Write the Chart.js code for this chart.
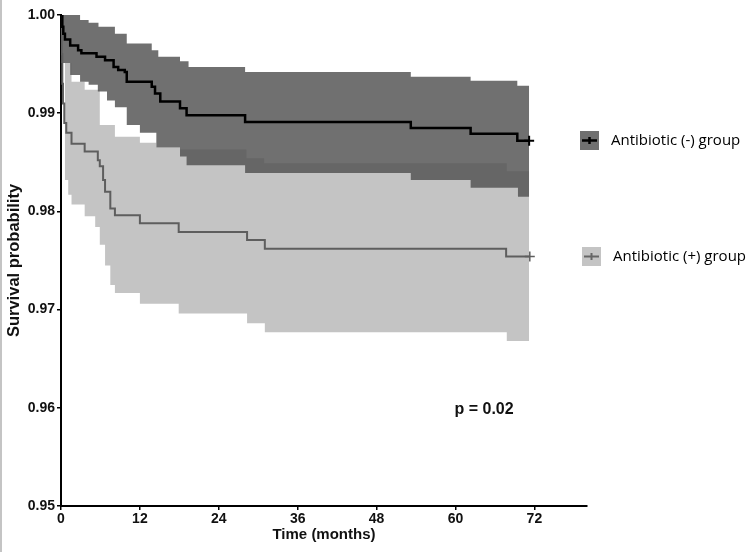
<!DOCTYPE html>
<html lang="en">
<head>
<meta charset="UTF-8">
<title>Survival probability</title>
<script src="https://cdn.jsdelivr.net/npm/chart.js"></script>
<style>
    html, body { margin: 0; padding: 0; background: #fff; }
    #wrap { position: relative; width: 750px; height: 552px; }
    #edge { position: absolute; left: 0; top: 0; width: 2px; height: 552px; background: #c4c4c4; }
</style>
</head>
<body>
<div id="wrap">
    <canvas id="chartCanvas" width="750" height="552"></canvas>
    <div id="edge"></div>
</div>
<script>
    // axis ticks
    const xTicks = [0, 12, 24, 36, 48, 60, 72];
    const yTicks = [0.95, 0.96, 0.97, 0.98, 0.99, 1.00];

    // Antibiotic (-) group: KM curve and 95% CI
    const negTime = [0, 0.2, 0.35, 0.6, 1.4, 2.6, 3.1, 5.4, 6.7, 8.0, 8.7, 9.7, 10.0, 13.8, 14.3, 15.1, 18.1, 19.1, 28.0, 53.2, 62.3, 69.4, 71.2];
    const negSurv = [1.0, 0.9988, 0.9981, 0.9975, 0.9969, 0.9964, 0.9961, 0.99575, 0.9954, 0.9947, 0.9944, 0.9942, 0.9932, 0.9927, 0.9920, 0.9912, 0.9905, 0.9898, 0.9891, 0.9885, 0.9879, 0.9872, 0.9872];
    const negUpTime = [0, 2.9, 4.2, 5.7, 8.2, 10.0, 13.8, 14.8, 18.1, 19.4, 28.0, 53.2, 62.3, 69.4, 71.2];
    const negUp = [1.0, 0.9995, 0.9992, 0.9988, 0.9981, 0.9971, 0.9964, 0.99575, 0.9953, 0.9947, 0.9942, 0.9937, 0.9933, 0.9928, 0.9928];
    const negLoTime = [0, 1.4, 2.9, 4.2, 5.6, 7.0, 8.2, 10.0, 12.0, 14.5, 18.1, 19.1, 28.0, 53.2, 62.3, 69.5, 71.2];
    const negLo = [0.9951, 0.9939, 0.9932, 0.9929, 0.9922, 0.9913, 0.9906, 0.9888, 0.9880, 0.9865, 0.9856, 0.9847, 0.9839, 0.9832, 0.9824, 0.9815, 0.9815];

    // Antibiotic (+) group
    const posTime = [0, 0.1, 0.2, 0.3, 0.5, 0.8, 1.6, 3.6, 5.6, 5.9, 6.4, 6.7, 7.5, 8.2, 12.0, 17.9, 28.3, 31.0, 67.7, 71.3];
    const posSurv = [1.0, 0.996, 0.993, 0.991, 0.989, 0.988, 0.9869, 0.9861, 0.9852, 0.9846, 0.9832, 0.9820, 0.9803, 0.9796, 0.9788, 0.9779, 0.9771, 0.9762, 0.9754, 0.9754];
    const posUpTime = [0, 0.6, 1.6, 3.6, 5.9, 8.2, 12.0, 14.5, 18.1, 28.2, 30.9, 67.8, 71.2];
    const posUp = [1.0, 0.9951, 0.9932, 0.9924, 0.9888, 0.9876, 0.9870, 0.9865, 0.9863, 0.9854, 0.9849, 0.9841, 0.9841];
    const posLoTime = [0, 0.6, 1.1, 1.6, 3.6, 5.2, 5.9, 6.7, 7.5, 8.2, 12.0, 17.9, 28.3, 31.0, 67.8, 71.2];
    const posLo = [1.0, 0.9832, 0.9817, 0.9807, 0.9795, 0.9784, 0.9766, 0.9745, 0.9725, 0.9717, 0.9706, 0.9696, 0.9686, 0.9677, 0.9668, 0.9668];

    const groupNames = ["Antibiotic (-) group", "Antibiotic (+) group"];
    const pText = "p = 0.02";

    function pts(t, v) {
        return t.map((x, i) => ({ x: x, y: v[i] }));
    }
    // censor mark only on the last point
    function lastOnly(n, r) {
        return Array.from({ length: n }, (_, i) => i === n - 1 ? r : 0);
    }

    const darkFill = "rgba(83,83,83,0.83)";
    const lightFill = "#c4c4c4";
    const fam = "'Liberation Sans', Arial, sans-serif";

    const legendPlugin = {
        id: "kmLegend",
        afterDraw(chart) {
            const ctx = chart.ctx;
            const items = [
                { box: "#707070", mark: "#000", lw: 2.5, x: 580, y: 131, text: groupNames[0] },
                { box: "#c4c4c4", mark: "#666", lw: 2, x: 582, y: 247, text: groupNames[1] }
            ];
            ctx.save();
            items.forEach(it => {
                ctx.fillStyle = it.box;
                ctx.fillRect(it.x, it.y, 19, 19);
                ctx.strokeStyle = it.mark;
                ctx.lineWidth = it.lw;
                ctx.beginPath();
                ctx.moveTo(it.x + 2, it.y + 9.5);
                ctx.lineTo(it.x + 17, it.y + 9.5);
                ctx.moveTo(it.x + 9.5, it.y + 6);
                ctx.lineTo(it.x + 9.5, it.y + 13);
                ctx.stroke();
                ctx.fillStyle = "#000";
                ctx.font = "15px 'Open Sans'";
                ctx.textBaseline = "middle";
                ctx.fillText(it.text, it.x + 31, it.y + 10);
            });
            const xs = chart.scales.x, ys = chart.scales.y;
            ctx.font = "bold 16px " + fam;
            ctx.textBaseline = "middle";
            ctx.fillStyle = "#111";
            ctx.fillText(pText, xs.getPixelForValue(60) - 1, ys.getPixelForValue(0.9598));
            ctx.restore();
        }
    };

    const tickFont = { family: fam, size: 14, weight: "bold" };

    new Chart(document.getElementById("chartCanvas"), {
        type: "line",
        data: {
            datasets: [
                {
                    label: groupNames[0],
                    data: pts(negTime, negSurv),
                    stepped: true,
                    borderColor: "#000",
                    borderWidth: 2.5,
                    pointStyle: "cross",
                    pointRadius: lastOnly(negTime.length, 5),
                    pointBorderColor: "#000",
                    pointBorderWidth: 2,
                    fill: false
                },
                {
                    label: groupNames[1],
                    data: pts(posTime, posSurv),
                    stepped: true,
                    borderColor: "#5e5e5e",
                    borderWidth: 2,
                    pointStyle: "cross",
                    pointRadius: lastOnly(posTime.length, 5),
                    pointBorderColor: "#5e5e5e",
                    pointBorderWidth: 1.5,
                    fill: false
                },
                {
                    label: "neg upper",
                    data: pts(negUpTime, negUp),
                    stepped: true,
                    borderWidth: 0,
                    pointRadius: 0,
                    backgroundColor: darkFill,
                    fill: "+1"
                },
                {
                    label: "neg lower",
                    data: pts(negLoTime, negLo),
                    stepped: true,
                    borderWidth: 0,
                    pointRadius: 0,
                    fill: false
                },
                {
                    label: "pos upper",
                    data: pts(posUpTime, posUp),
                    stepped: true,
                    borderWidth: 0,
                    pointRadius: 0,
                    backgroundColor: lightFill,
                    fill: "+1"
                },
                {
                    label: "pos lower",
                    data: pts(posLoTime, posLo),
                    stepped: true,
                    borderWidth: 0,
                    pointRadius: 0,
                    fill: false
                }
            ]
        },
        options: {
            responsive: false,
            animation: false,
            layout: { autoPadding: false, padding: { top: 15, right: 163, left: 0, bottom: 0 } },
            plugins: {
                legend: { display: false },
                tooltip: { enabled: false }
            },
            scales: {
                x: {
                    type: "linear",
                    min: 0,
                    max: 80,
                    afterBuildTicks: s => { s.ticks = xTicks.map(v => ({ value: v })); },
                    afterFit: s => { s.height = 46; },
                    ticks: { font: tickFont, color: "#111", padding: 1, maxRotation: 0 },
                    grid: { drawOnChartArea: false, color: "#000", lineWidth: 1.5, tickLength: 4 },
                    border: { color: "#000", width: 2 },
                    title: {
                        display: true,
                        text: "Time (months)",
                        font: { family: fam, size: 15, weight: "bold" },
                        color: "#111",
                        padding: { top: 0, bottom: 8 }
                    }
                },
                y: {
                    min: 0.95,
                    max: 1.0,
                    afterBuildTicks: s => { s.ticks = yTicks.map(v => ({ value: v })); },
                    afterFit: s => { s.width = 61; },
                    ticks: {
                        font: tickFont,
                        color: "#111",
                        padding: 2,
                        callback: v => Number(v).toFixed(2)
                    },
                    grid: { drawOnChartArea: false, color: "#000", lineWidth: 1.5, tickLength: 4 },
                    border: { color: "#000", width: 2 },
                    title: {
                        display: true,
                        text: "Survival probability",
                        font: { family: fam, size: 16.5, weight: "bold" },
                        color: "#111",
                        padding: { top: 5, bottom: 5 }
                    }
                }
            }
        },
        plugins: [legendPlugin]
    });
</script>
</body>
</html>
